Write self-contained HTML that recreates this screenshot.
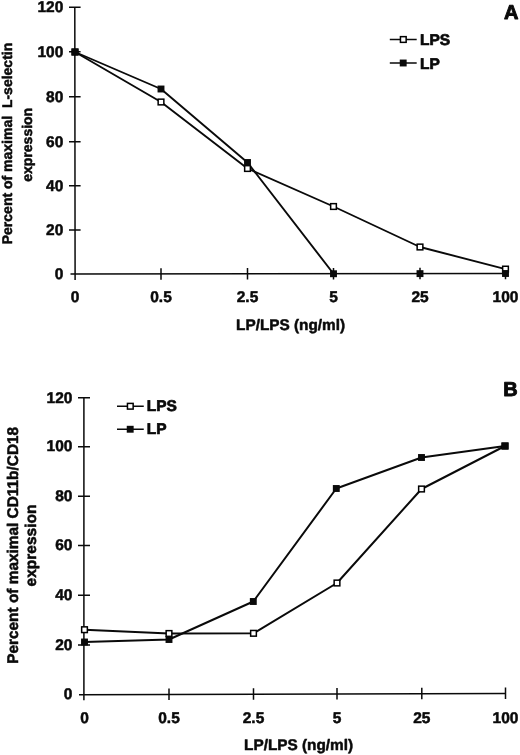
<!DOCTYPE html>
<html><head><meta charset="utf-8">
<title>Figure</title>
<style>
html,body{margin:0;padding:0;background:#fff;}
body{width:520px;height:755px;overflow:hidden;}
svg{display:block;filter:grayscale(1) blur(0.35px);}
text{font-family:"Liberation Sans",sans-serif;font-weight:bold;font-size:15.5px;fill:#0a0a0a;stroke:#0a0a0a;stroke-width:0.5px;stroke-linejoin:round;text-rendering:geometricPrecision;}
.ax{stroke:#0a0a0a;stroke-width:1.5;fill:none;}
.ln{stroke:#0a0a0a;stroke-width:2;fill:none;stroke-linejoin:round;}
.ms{fill:#0a0a0a;stroke:none;}
.mo{fill:#fff;stroke:#000;stroke-width:1.5;}
.big{font-size:20px;stroke-width:0.9px;}
.lg text{stroke-width:0.7px;}
.e{text-anchor:end;}
.m{text-anchor:middle;}
</style></head><body>
<svg width="520" height="755" viewBox="0 0 520 755">
<rect width="520" height="755" fill="#fff"/>
<g id="panelA">
<path class="ax" d="M74.8 7.2L75.1 280 M70.5 274.1L506 273.5"/>
<path class="ax" d="M69 7.2H80.6 M69 51.8H80.6 M69 96.8H80.6 M69 141.7H80.6 M69 185.8H80.6 M69 230.05H80.6"/>
<path class="ax" d="M161 268.18V279.68 M247.5 268.06V279.56 M333.5 267.94V279.44 M420 267.82V279.32 M505.5 267.7V279.2"/>
<g class="e"><text x="63.3" y="12.3">120</text><text x="63.3" y="56.9">100</text><text x="63.3" y="101.9">80</text><text x="63.3" y="146.8">60</text><text x="63.3" y="190.9">40</text><text x="63.3" y="235.15">20</text><text x="63.3" y="279.1">0</text></g>
<g class="m"><text x="75" y="302.3">0</text><text x="161" y="302.18">0.5</text><text x="247.5" y="302.06">2.5</text><text x="333.5" y="301.94">5</text><text x="420" y="301.82">25</text><text x="505.5" y="301.7">100</text><text x="290.6" y="329.6" style="font-size:15.35px">LP/LPS (ng/ml)</text></g>
<polyline class="ln" style="stroke-width:1.9" points="75,52 161,102 247.5,168.5 333.5,206.5 420,247 505.5,269.1"/>
<polyline class="ln" style="stroke-width:1.9" points="75,52 161,89 247.5,162.5 333.5,273.74"/>
<g class="mo"><rect x="72.15" y="49.15" width="5.7" height="5.7"/><rect x="158.15" y="99.15" width="5.7" height="5.7"/><rect x="244.65" y="165.65" width="5.7" height="5.7"/><rect x="330.65" y="203.65" width="5.7" height="5.7"/><rect x="417.15" y="244.15" width="5.7" height="5.7"/><rect x="502.65" y="266.25" width="5.7" height="5.7"/></g>
<g class="ms"><rect x="71.55" y="48.55" width="6.9" height="6.9"/><rect x="157.55" y="85.55" width="6.9" height="6.9"/><rect x="244.05" y="159.05" width="6.9" height="6.9"/><rect x="330.05" y="270.29" width="6.9" height="6.9"/><rect x="416.55" y="270.17" width="6.9" height="6.9"/><rect x="502.05" y="270.05" width="6.9" height="6.9"/></g>
<path class="ax" d="M389.8 39.5H416.7 M389.8 63H416.7"/>
<g class="mo"><rect x="400.45" y="36.65" width="5.7" height="5.7"/></g><g class="ms"><rect x="399.75" y="59.55" width="6.9" height="6.9"/></g>
<g class="lg"><text x="420" y="45.4">LPS</text><text x="420" y="68.9">LP</text></g>
<text class="big" x="504" y="18.8">A</text>
<text class="m" transform="translate(12,143.5) rotate(-90)" xml:space="preserve" style="font-size:14px">Percent of maximal  L-selectin</text>
<text class="m" transform="translate(31.6,144.8) rotate(-90)" style="font-size:14px">expression</text>
</g>
<g id="panelB">
<path class="ax" d="M83.9 397.8V700.3 M79 694.8L506 693.5"/>
<path class="ax" d="M78 397.8H90 M78 446.75H90 M78 496.25H90 M78 545.6H90 M78 595.25H90 M78 645.1H90"/>
<path class="ax" d="M169 688.54V700.04 M253.5 688.28V699.78 M337 688.02V699.52 M421.8 687.76V699.26 M505.5 687.5V699"/>
<g class="e"><text x="72.4" y="402.5">120</text><text x="72.4" y="451.45">100</text><text x="72.4" y="500.95">80</text><text x="72.4" y="550.3">60</text><text x="72.4" y="599.95">40</text><text x="72.4" y="649.8">20</text><text x="72.4" y="699.4">0</text></g>
<g class="m"><text x="84.5" y="723">0</text><text x="169" y="723">0.5</text><text x="253.5" y="723">2.5</text><text x="337" y="723">5</text><text x="421.8" y="723">25</text><text x="505.5" y="723">100</text><text x="298.6" y="749.7" style="font-size:15.35px">LP/LPS (ng/ml)</text></g>
<polyline class="ln" points="84.5,629.7 169,633.5 253.5,633.3 337,583 421.5,489 505,446"/>
<polyline class="ln" points="84.5,642 169,639.5 253.3,601.5 336.3,488.5 421.5,457.5 505,446"/>
<g class="mo"><rect x="81.65" y="626.85" width="5.7" height="5.7"/><rect x="166.15" y="630.65" width="5.7" height="5.7"/><rect x="250.65" y="630.45" width="5.7" height="5.7"/><rect x="334.15" y="580.15" width="5.7" height="5.7"/><rect x="418.65" y="486.15" width="5.7" height="5.7"/><rect x="502.15" y="443.15" width="5.7" height="5.7"/></g>
<g class="ms"><rect x="81.05" y="638.55" width="6.9" height="6.9"/><rect x="165.55" y="636.05" width="6.9" height="6.9"/><rect x="249.85" y="598.05" width="6.9" height="6.9"/><rect x="332.85" y="485.05" width="6.9" height="6.9"/><rect x="418.05" y="454.05" width="6.9" height="6.9"/><rect x="501.55" y="442.55" width="6.9" height="6.9"/></g>
<path class="ax" d="M117 406.25H143.75 M117 429.25H143.75"/>
<g class="mo"><rect x="127.45" y="403.4" width="5.7" height="5.7"/></g><g class="ms"><rect x="126.75" y="425.8" width="6.9" height="6.9"/></g>
<g class="lg"><text x="146.8" y="410.8">LPS</text><text x="146.8" y="434">LP</text></g>
<text class="big" x="503.3" y="395.6">B</text>
<text class="m" transform="translate(18,545.35) rotate(-90)" style="font-size:15.4px">Percent of maximal CD11b/CD18</text>
<text class="m" transform="translate(35.9,545.5) rotate(-90)">expression</text>
</g>
</svg>
</body></html>
